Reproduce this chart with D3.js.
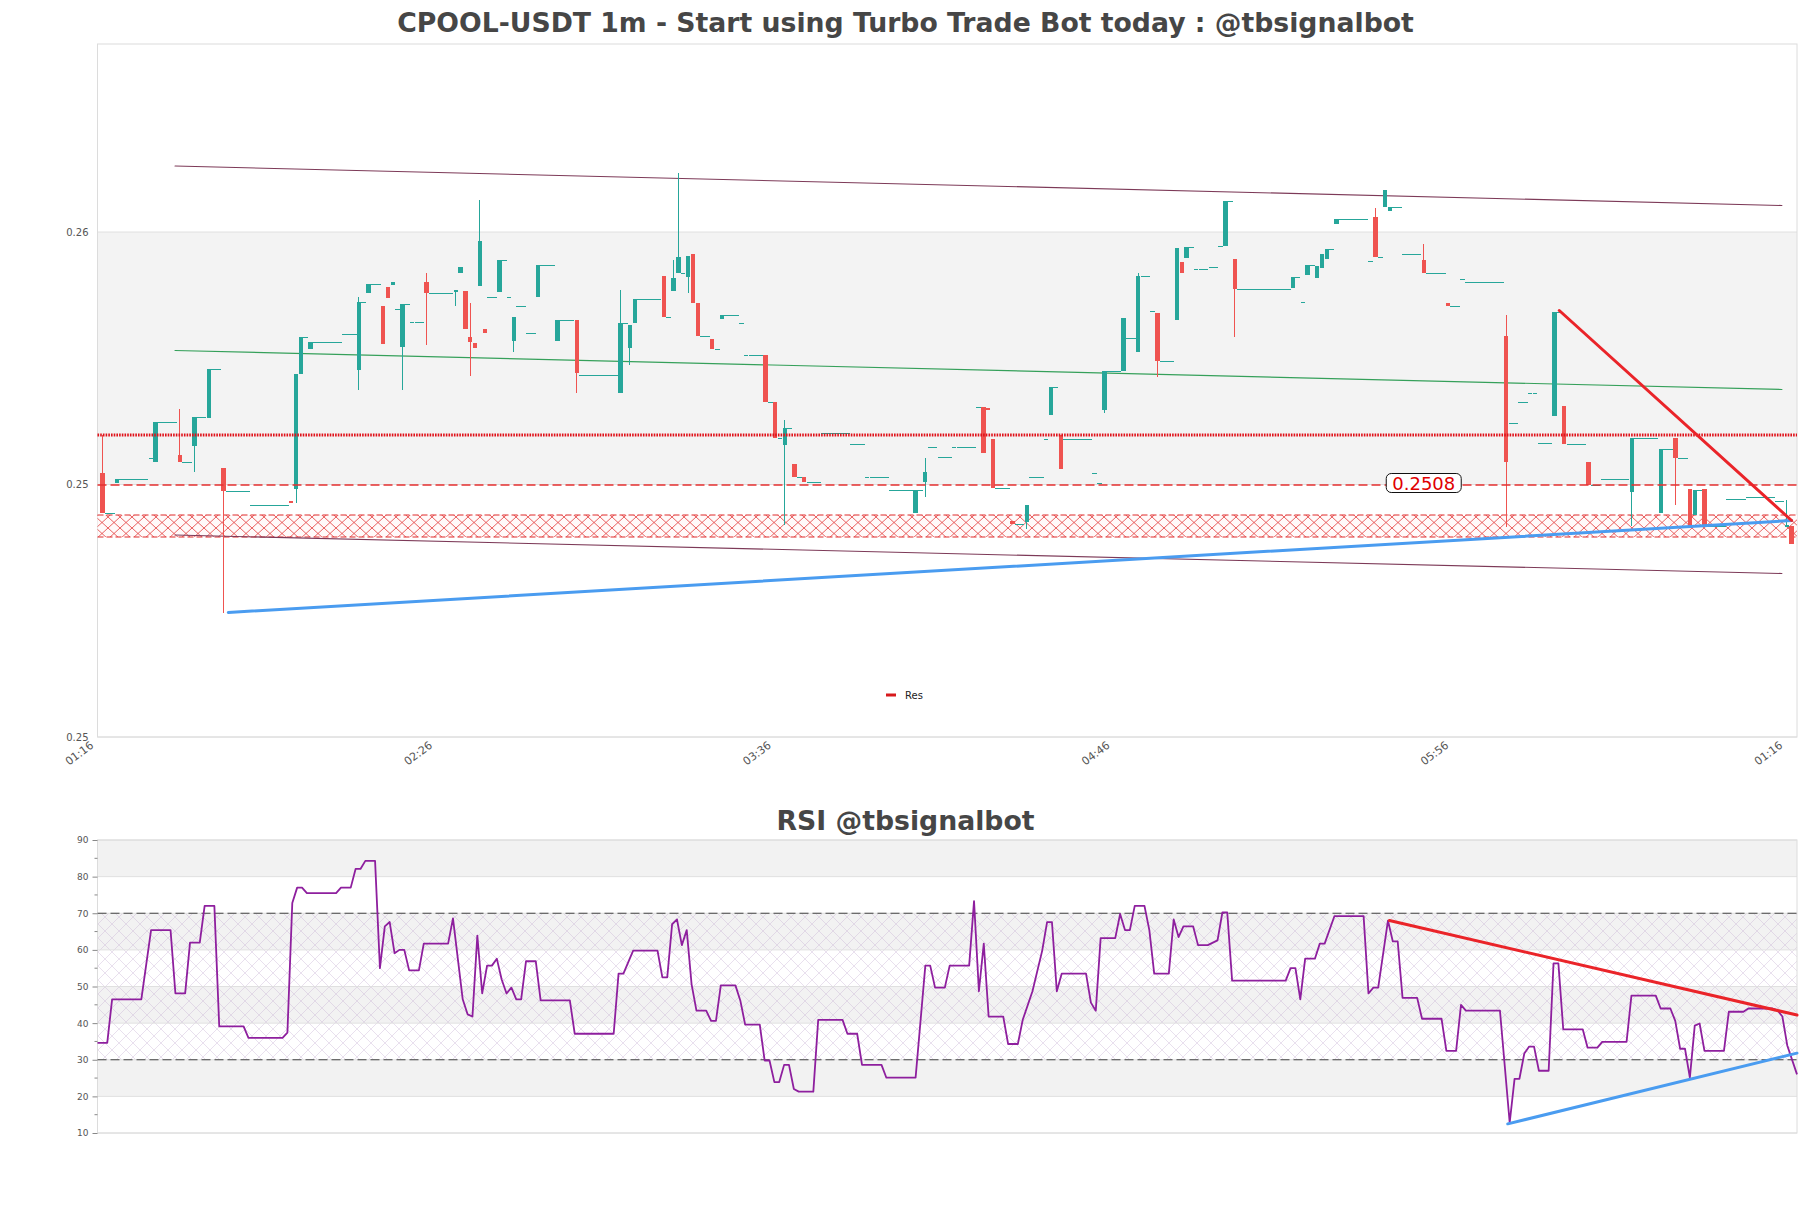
<!DOCTYPE html>
<html><head><meta charset="utf-8">
<script src="https://cdn.jsdelivr.net/npm/d3@7"></script>
<style>
html,body{margin:0;padding:0;background:#fff;}
svg{display:block;font-family:"DejaVu Sans",sans-serif;}
</style></head><body>
<svg id="chart" width="1811" height="1208"></svg>
<script>
// ---------------- DATA ----------------
const chartTitle = "CPOOL-USDT 1m - Start using Turbo Trade Bot today : @tbsignalbot";
const rsiTitle = "RSI @tbsignalbot";
const slotCount = 350;
const xTickSlots = [0, 70, 140, 210, 280, 349];
const xTickLabels = ["01:16", "02:26", "03:36", "04:46", "05:56", "01:16"];
const priceDomain = [0.24576, 0.25962];
const priceTicks = [0.24576, 0.25081, 0.25586];

const cSlot = [0,3,10,11,16,19,22,25,31,39,40,41,43,50,53,55,58,59,60,61,62,64,67,73,74,75,76,77,78,79,80,82,84,85,86,88,90,94,98,99,107,109,110,116,118,119,120,121,122,123,126,128,132,133,137,139,141,143,145,149,155,158,163,168,170,171,173,176,181,182,183,184,188,191,192,195,196,198,199,205,206,207,211,212,214,217,218,222,223,224,226,229,231,232,234,246,248,249,251,252,253,255,262,263,265,266,269,273,278,281,282,290,291,293,295,297,300,302,307,310,316,322,325,328,329,331,336,340,346,348,349];
const cOpen = [.25104,.25084,.25134,.25126,.2514,.25158,.25214,.25114,.2504,.25048,.25072,.25302,.25352,.25382,.2531,.25464,.25438,.25476,.2548,.25432,.25356,.25406,.25486,.25466,.25504,.25468,.25376,.25364,.25478,.25392,.25456,.25466,.25456,.25368,.25438,.25384,.25456,.25368,.2541,.253,.25264,.25354,.25404,.25498,.25468,.25504,.25504,.25496,.25542,.25444,.25372,.25412,.25404,.2534,.2534,.25246,.2516,.25122,.25096,.25184,.25162,.25096,.2507,.25024,.25086,.25156,.25136,.25156,.25236,.25236,.25234,.25172,.25008,.25006,.25096,.25172,.2522,.2518,.25172,.25104,.25084,.2523,.25308,.25374,.25346,.25428,.25424,.2541,.25526,.25534,.25512,.25516,.25558,.25558,.25532,.25474,.25446,.255,.25494,.25514,.25532,.25602,.25528,.25616,.25636,.25628,.25542,.2553,.25444,.25492,.25486,.25378,.25204,.25246,.25264,.25164,.25218,.25238,.25126,.25092,.25066,.25024,.25174,.25072,.2502,.25072,.25052,.25056,.25048,.24996,.24998];
const cHigh = [.2518,.25092,.25134,.25206,.25232,.25216,.25312,.25114,.2504,.25048,.25302,.25376,.25366,.25382,.25456,.25482,.25438,.25476,.25486,.25432,.25442,.25406,.25504,.2547,.25516,.25468,.25444,.25364,.2565,.25392,.25456,.2553,.25456,.25416,.25438,.25384,.2552,.2541,.2541,.253,.2547,.254,.25452,.25498,.2553,.25704,.25504,.25538,.25542,.25444,.25372,.2542,.25404,.2534,.2534,.25246,.2521,.25122,.25096,.25184,.25162,.25096,.2507,.2507,.25134,.25156,.25136,.25156,.25236,.25236,.25234,.25172,.25008,.2504,.25096,.25172,.25276,.2518,.25172,.25104,.25084,.25308,.25414,.25374,.25504,.25428,.25424,.25554,.25526,.25556,.25512,.25516,.25558,.25648,.25532,.25496,.25446,.2552,.25518,.25542,.25552,.25612,.25528,.25634,.2567,.25636,.25542,.25562,.25444,.25492,.25486,.2542,.25204,.25246,.25264,.25164,.25426,.25238,.25126,.25092,.25174,.25152,.25174,.25072,.2507,.25072,.25052,.25056,.25048,.2505,.24998];
const cLow = [.25024,.25084,.25134,.25126,.25126,.25106,.25214,.24824,.2504,.25044,.25044,.25302,.25352,.25382,.2527,.25464,.25362,.25454,.2548,.25432,.2527,.25406,.2536,.25438,.25504,.25392,.25298,.25354,.25478,.25384,.25456,.25466,.25456,.25346,.25438,.25384,.25456,.25368,.25264,.253,.25264,.2532,.25404,.25416,.25468,.25504,.25504,.25464,.25444,.25378,.25352,.25412,.25404,.2534,.25246,.25174,.25,.25096,.25086,.25184,.25162,.25096,.2507,.25024,.25056,.25156,.25136,.25156,.25236,.25144,.2523,.25074,.25002,.24992,.25096,.25172,.2522,.25112,.25172,.25104,.25084,.25224,.25308,.25374,.25346,.25428,.25296,.2541,.25504,.25534,.25512,.25516,.25558,.25558,.25376,.25474,.25446,.255,.25494,.25514,.25532,.25602,.25528,.25536,.25636,.25628,.25542,.25504,.25438,.25492,.25486,.24996,.25204,.25246,.25264,.25164,.25218,.25162,.2508,.25092,.24998,.25024,.2504,.24996,.2502,.24998,.25052,.25056,.25048,.24996,.24962];
const cClose = [.25024,.25092,.25134,.25206,.25126,.25216,.25312,.25068,.2504,.25044,.25302,.25376,.25366,.25382,.25446,.25482,.25362,.25454,.25486,.25432,.25442,.25406,.25464,.2547,.25516,.25392,.25366,.25354,.25568,.25384,.25456,.2553,.25456,.25416,.25438,.25384,.2552,.2541,.25304,.253,.25404,.254,.25452,.25416,.25494,.25536,.25504,.25538,.25444,.25378,.25352,.2542,.25404,.2534,.25246,.25174,.25194,.25096,.25086,.25184,.25162,.25096,.2507,.2507,.25106,.25156,.25136,.25156,.25236,.25144,.2523,.25074,.25002,.2504,.25096,.25172,.25276,.25112,.25172,.25104,.25084,.25308,.25414,.25374,.25498,.25428,.25328,.25554,.25504,.25556,.25512,.25516,.25558,.25648,.25472,.25496,.25446,.2552,.25518,.25542,.25552,.25612,.25528,.25536,.2567,.25636,.25542,.25504,.25438,.25492,.25486,.25126,.25204,.25246,.25264,.25164,.25426,.25162,.2508,.25092,.25174,.25152,.25134,.24996,.2507,.24998,.25052,.25056,.25048,.25,.24962];

// horizontal levels
const resistanceLevel = 0.2518;      // dotted red
const priceLevel = 0.2508;           // dashed red + label
const priceLabelSlot = 273;
const zoneTop = 0.2502, zoneBottom = 0.24976;   // hatched zone
// trend / channel lines: [slotStart, priceStart, slotEnd, priceEnd]
const channelUpper = [15, 0.25718, 347, 0.25639];
const channelLower = [15, 0.24980, 347, 0.24903];
const channelMid   = [15, 0.25349, 347, 0.25271];
const supportLine  = [26, 0.24825, 349, 0.25009];
const resistLine   = [301, 0.25429, 349, 0.25009];
const legendLabels = ["Res"];

// RSI
const rsiIdx = [0,2,3,9,11,15,16,18,19,21,22,24,25,30,31,38,39,40,41,42,43,49,50,52,53,54,55,57,58,59,60,61,62,63,64,66,67,72,73,75,76,77,78,79,80,81,82,83,84,85,86,87,88,90,91,97,98,106,107,108,110,115,116,117,118,119,120,121,122,123,125,126,127,128,131,132,133,136,137,138,139,140,141,142,143,144,147,148,153,154,156,157,161,162,168,170,171,172,174,175,179,180,181,182,183,186,187,189,190,192,194,195,196,197,198,203,204,205,206,209,210,211,212,213,215,216,217,220,221,222,223,225,226,228,230,231,232,233,244,245,246,247,248,250,251,252,254,260,261,262,263,265,266,267,268,271,272,276,277,279,280,281,288,290,291,292,293,294,295,296,298,299,300,301,305,306,308,309,314,315,320,321,323,324,325,326,327,328,329,330,334,335,338,339,344,345,346,347,349];
const rsiVal = [34.6,34.6,46.5,46.5,65.4,65.4,48.1,48.1,62,62,72,72,39.1,39.1,36,36,37.4,72.8,77,77,75.5,75.5,77,77,82.1,82.1,84.3,84.3,55,66.4,67.6,59.1,60,60,54.4,54.4,61.7,61.7,68.6,46.5,42.4,41.8,63.9,48.1,55.7,55.7,57.6,51.9,48.1,49.7,46.5,46.5,56.9,56.9,46.2,46.2,37.1,37.1,53.5,53.5,59.8,59.8,52.5,52.5,67,68.3,61.3,65.4,50.6,43.4,43.4,40.6,40.6,50.3,50.3,46.2,39.6,39.6,29.8,29.8,23.9,23.9,28.6,28.6,22,21.3,21.3,40.9,40.9,37.1,37.1,28.6,28.6,25.1,25.1,55.7,55.7,49.7,49.7,55.7,55.7,73.3,48.7,61.7,41.8,41.8,34.3,34.3,40.9,48.7,59.8,67.6,67.6,48.7,53.5,53.5,45.6,43.4,63.2,63.2,69.8,65.4,65.4,72,72,65.4,53.5,53.5,68.3,63.5,66.4,66.4,61.3,61.3,62.6,70.2,70.2,51.6,51.6,55,55,46.5,57.6,57.6,61.7,61.7,69.2,69.2,48.1,49.7,49.7,68,62.3,62.3,46.9,46.9,41.2,41.2,32.4,32.4,45,43.4,43.4,12.8,24.8,24.8,31.7,33.6,33.6,27,27,56.3,56.3,38.3,38.3,33.3,33.3,34.9,34.9,47.5,47.5,44,44,40.6,33,33,25.1,39.3,39.9,32.4,32.4,43.1,43.1,44,44,43.5,41.8,33.9,26];
const rsiTicks = [10,20,30,40,50,60,70,80,90];
const rsiMinorTicks = [15,25,35,45,55,65,75,85];
const rsiBandsGrey = [[20,30],[40,50],[60,70],[80,90]];
const rsiZone = [30, 70];
const rsiRedTrend = [265.3, 68.0, 349, 42.2];
const rsiBlueTrend = [289.6, 12.5, 349, 31.8];

// ---------------- LAYOUT ----------------
const M = {left: 97.5, right: 1797, top: 44, bottom: 737};
const R = {left: 97.5, right: 1797, top: 840, bottom: 1133};
const UP = "#26a69a", DOWN = "#ef5350";

const svg = d3.select("#chart");
const defs = svg.append("defs");
const pRed = defs.append("pattern").attr("id", "hatchRed").attr("patternUnits", "userSpaceOnUse")
  .attr("width", 12).attr("height", 11);
pRed.append("rect").attr("width", 12).attr("height", 11).attr("fill", "#fffafa");
pRed.append("path").attr("d", "M0,0L12,11M12,0L0,11").attr("stroke", "#e33a3a").attr("stroke-width", 0.8).attr("fill", "none");
const pPur = defs.append("pattern").attr("id", "hatchPur").attr("patternUnits", "userSpaceOnUse")
  .attr("width", 14).attr("height", 14);
pPur.append("path").attr("d", "M0,0L14,14M14,0L0,14").attr("stroke", "#c9b4d6").attr("stroke-width", 0.6).attr("fill", "none").attr("opacity", 0.7);

// ---------------- MAIN CHART ----------------
const x = d3.scaleBand().domain(d3.range(slotCount)).range([100, 1794]).paddingInner(0).paddingOuter(0);
const bw = x.bandwidth();
const xc = d3.scaleLinear().domain([0, slotCount - 1]).range([x(0) + bw / 2, x(slotCount - 1) + bw / 2]);
const y = d3.scaleLinear().domain(priceDomain).range([M.bottom, M.top]);

const gMain = svg.append("g");
// split area
gMain.append("rect").attr("x", M.left).attr("width", M.right - M.left)
  .attr("y", y(priceTicks[2])).attr("height", y(priceTicks[1]) - y(priceTicks[2])).attr("fill", "#f3f3f3");
// grid
gMain.selectAll("line.grid").data(priceTicks).enter().append("line")
  .attr("x1", M.left).attr("x2", M.right).attr("y1", d => y(d)).attr("y2", d => y(d))
  .attr("stroke", "#e0e0e0").attr("stroke-width", 1);
gMain.append("rect").attr("x", M.left).attr("y", M.top).attr("width", M.right - M.left).attr("height", M.bottom - M.top)
  .attr("fill", "none").attr("stroke", "#dcdcdc").attr("stroke-width", 1);

// hatched zone
gMain.append("rect").attr("x", M.left).attr("width", M.right - M.left)
  .attr("y", y(zoneTop)).attr("height", y(zoneBottom) - y(zoneTop)).attr("fill", "url(#hatchRed)");
[zoneTop, zoneBottom].forEach(v => {
  gMain.append("line").attr("x1", M.left).attr("x2", M.right).attr("y1", y(v)).attr("y2", y(v))
    .attr("stroke", "#e02a2a").attr("stroke-width", 1.2).attr("stroke-dasharray", "6,3");
});

// channel lines
function trend(g, t, color, width) {
  g.append("line").attr("x1", xc(t[0])).attr("y1", y(t[1])).attr("x2", xc(t[2])).attr("y2", y(t[3]))
    .attr("stroke", color).attr("stroke-width", width).attr("stroke-linecap", "round");
}
trend(gMain, channelUpper, "#7d3a58", 1.1);
trend(gMain, channelLower, "#7d3a58", 1.1);
trend(gMain, channelMid, "#35a05a", 1.2);

// candles
const events = cSlot.map((s, i) => ({s, o: cOpen[i], h: cHigh[i], l: cLow[i], c: cClose[i], next: i + 1 < cSlot.length ? cSlot[i + 1] : null}));
const gC = gMain.append("g").attr("shape-rendering", "crispEdges");
// carried-forward flat segments
gC.selectAll("line.flat").data(events.filter(e => e.next !== null && e.next > e.s + 1)).enter().append("line")
  .attr("x1", e => x(e.s + 1)).attr("x2", e => x(e.next))
  .attr("y1", e => Math.round(y(e.c)) + 0.5).attr("y2", e => Math.round(y(e.c)) + 0.5)
  .attr("stroke", UP).attr("stroke-width", 1);
// wicks
gC.selectAll("line.wick").data(events.filter(e => e.h > e.l)).enter().append("line")
  .attr("x1", e => x(e.s) + bw / 2).attr("x2", e => x(e.s) + bw / 2)
  .attr("y1", e => y(e.h)).attr("y2", e => y(e.l))
  .attr("stroke", e => e.c >= e.o ? UP : DOWN).attr("stroke-width", 1);
// bodies
gC.selectAll("rect.body").data(events).enter().append("rect")
  .attr("x", e => x(e.s) + 0.2).attr("width", bw - 0.4)
  .attr("y", e => Math.min(y(e.o), y(e.c)))
  .attr("height", e => Math.max(1, Math.abs(y(e.o) - y(e.c))))
  .attr("fill", e => e.c >= e.o ? UP : DOWN);

// level lines
gMain.append("line").attr("x1", M.left).attr("x2", M.right).attr("y1", y(resistanceLevel)).attr("y2", y(resistanceLevel))
  .attr("stroke", "#e0121a").attr("stroke-width", 2.8).attr("stroke-dasharray", "1.6,1.1");
gMain.append("line").attr("x1", M.left).attr("x2", M.right).attr("y1", y(priceLevel)).attr("y2", y(priceLevel))
  .attr("stroke", "#e53030").attr("stroke-width", 1.3).attr("stroke-dasharray", "9,4");

// trend lines
trend(gMain, supportLine, "#4a9cf0", 3);
trend(gMain, resistLine, "#ea2429", 3);

// price label
const lbl = gMain.append("g").attr("transform", `translate(${xc(priceLabelSlot)},${y(priceLevel) - 2})`);
lbl.append("rect").attr("x", -37.5).attr("y", -9.5).attr("width", 75).attr("height", 19).attr("rx", 5)
  .attr("fill", "#fff").attr("stroke", "#111").attr("stroke-width", 1);
lbl.append("text").attr("text-anchor", "middle").attr("dominant-baseline", "central").attr("y", 0.5)
  .attr("font-size", 18).attr("fill", "#e00000").text(d3.format(".4f")(priceLevel));

// legend
const lg = gMain.append("g").attr("transform", "translate(886,695)");
lg.append("line").attr("x1", 0).attr("x2", 10).attr("y1", 0).attr("y2", 0).attr("stroke", "#d7191c").attr("stroke-width", 3);
lg.append("text").attr("x", 19).attr("dominant-baseline", "central").attr("font-size", 10).attr("fill", "#222").text(legendLabels[0]);

// axes
const yAxis = gMain.append("g").attr("transform", `translate(${M.left},0)`)
  .call(d3.axisLeft(y).tickValues(priceTicks).tickFormat(d3.format(".2f")).tickSize(0).tickPadding(9));
yAxis.select(".domain").remove();
yAxis.selectAll("text").attr("font-size", 10).attr("fill", "#555").attr("font-family", "DejaVu Sans");

const xAxis = gMain.append("g").attr("transform", `translate(0,${M.bottom})`)
  .call(d3.axisBottom(x).tickValues(xTickSlots).tickFormat((d, i) => xTickLabels[i]).tickSize(0).tickPadding(0));
xAxis.select(".domain").remove();
xAxis.selectAll("text").attr("font-size", 11).attr("fill", "#555").attr("font-family", "DejaVu Sans")
  .attr("text-anchor", "end").attr("x", -9).attr("y", 4).attr("dy", "0.7em")
  .attr("transform", "translate(-8,-5) rotate(-37)");

// title
svg.append("text").attr("x", 905.5).attr("y", 22).attr("text-anchor", "middle").attr("dominant-baseline", "central")
  .attr("font-size", 26.7).attr("font-weight", "bold").attr("fill", "#464646").text(chartTitle);

// ---------------- RSI CHART ----------------
const xr = d3.scaleLinear().domain([0, slotCount - 1]).range([R.left, R.right]);
const yr = d3.scaleLinear().domain([10, 90]).range([R.bottom, R.top]);
const gR = svg.append("g");
gR.selectAll("rect.band").data(rsiBandsGrey).enter().append("rect")
  .attr("x", R.left).attr("width", R.right - R.left)
  .attr("y", d => yr(d[1])).attr("height", d => yr(d[0]) - yr(d[1])).attr("fill", "#f2f2f2");
gR.append("rect").attr("x", R.left).attr("width", R.right - R.left)
  .attr("y", yr(rsiZone[1])).attr("height", yr(rsiZone[0]) - yr(rsiZone[1])).attr("fill", "url(#hatchPur)");
gR.selectAll("line.grid").data(rsiTicks).enter().append("line")
  .attr("x1", R.left).attr("x2", R.right).attr("y1", d => yr(d)).attr("y2", d => yr(d))
  .attr("stroke", "#e0e0e0").attr("stroke-width", 1);
gR.append("rect").attr("x", R.left).attr("y", R.top).attr("width", R.right - R.left).attr("height", R.bottom - R.top)
  .attr("fill", "none").attr("stroke", "#dcdcdc").attr("stroke-width", 1);
rsiZone.forEach(v => {
  gR.append("line").attr("x1", R.left).attr("x2", R.right).attr("y1", yr(v)).attr("y2", yr(v))
    .attr("stroke", "#444").attr("stroke-width", 1.1).attr("stroke-dasharray", "9,4");
});
const rAxis = gR.append("g").attr("transform", `translate(${R.left},0)`)
  .call(d3.axisLeft(yr).tickValues(rsiTicks).tickFormat(d3.format("d")).tickSize(5).tickPadding(4));
rAxis.select(".domain").remove();
rAxis.selectAll("line").attr("stroke", "#888");
rAxis.selectAll("text").attr("font-size", 9).attr("fill", "#555").attr("font-family", "DejaVu Sans");
gR.selectAll("line.minor").data(rsiMinorTicks).enter().append("line")
  .attr("x1", R.left - 3).attr("x2", R.left).attr("y1", d => yr(d)).attr("y2", d => yr(d))
  .attr("stroke", "#888").attr("stroke-width", 1);

const rsiPts = rsiIdx.map((i, k) => ({i, v: rsiVal[k]}));
gR.append("path").datum(rsiPts).attr("fill", "none").attr("stroke", "#8e1f9e").attr("stroke-width", 1.8)
  .attr("stroke-linejoin", "round")
  .attr("d", d3.line().x(d => xr(d.i)).y(d => yr(d.v)));
function rtrend(t, color) {
  gR.append("line").attr("x1", xr(t[0])).attr("y1", yr(t[1])).attr("x2", xr(t[2])).attr("y2", yr(t[3]))
    .attr("stroke", color).attr("stroke-width", 3).attr("stroke-linecap", "round");
}
rtrend(rsiRedTrend, "#ea2429");
rtrend(rsiBlueTrend, "#4a9cf0");

svg.append("text").attr("x", 905.5).attr("y", 820).attr("text-anchor", "middle").attr("dominant-baseline", "central")
  .attr("font-size", 26.7).attr("font-weight", "bold").attr("fill", "#464646").text(rsiTitle);
</script>
</body></html>
